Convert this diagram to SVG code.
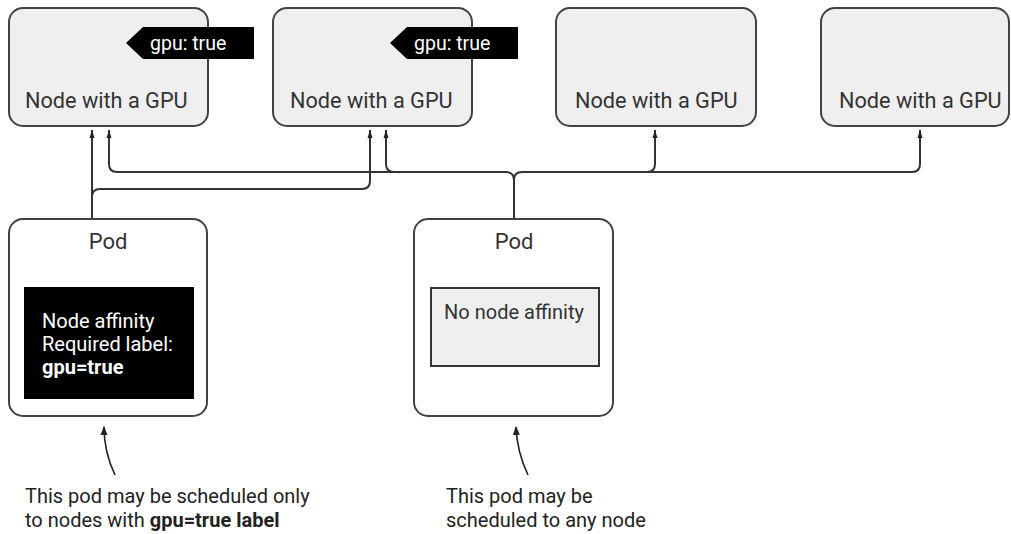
<svg xmlns="http://www.w3.org/2000/svg" width="1011" height="534" viewBox="0 0 1011 534">
  <style>
    .node { fill: #efefef; stroke: #424242; stroke-width: 2; }
    .pod { fill: #ffffff; stroke: #424242; stroke-width: 2; }
    .lbl { font-family: Roboto, "Liberation Sans", sans-serif; fill: #333333; }
    .node-lbl { font-size: 21.7px; }
    .pod-lbl { font-size: 22px; }
    .inner { font-size: 20px; }
    .inv { fill: #ffffff; }
    .tag { fill: #000000; }
    .tag-lbl { font-family: Roboto, "Liberation Sans", sans-serif; font-size: 19.5px; fill: #ffffff; }
    .wire { fill: none; stroke: #333333; stroke-width: 2; }
    .note { fill: none; stroke: #222222; stroke-width: 1.6; }
    .cap { font-family: Roboto, "Liberation Sans", sans-serif; font-size: 20px; fill: #222222; }
  </style>
  <defs>
    <!-- arrowhead for the annotation curves, drawn along +x -->
    <marker id="tip" viewBox="0 0 9 8" refX="8" refY="4" markerWidth="9" markerHeight="8" markerUnits="userSpaceOnUse" orient="auto">
      <path d="M0 0.5 L9 4 L0 7.5 Z" fill="#222222"/>
    </marker>
    <!-- arrowhead for the vertical wires into the nodes -->
    <marker id="up" viewBox="0 0 6 8" refX="3" refY="0" markerWidth="6" markerHeight="8" markerUnits="userSpaceOnUse" orient="0">
      <path d="M0.5 8 L3 0 L5.5 8 Z" fill="#222222"/>
    </marker>
  </defs>

  <rect width="1011" height="534" fill="#ffffff"/>

  <!-- scheduling connectors -->
  <g id="connectors">
    <!-- pod with affinity: only GPU-labelled nodes -->
    <path class="wire" d="M92 219 V130" marker-end="url(#up)"/>
    <path class="wire" d="M92 197 Q92 189 100 189 H362 Q370 189 370 181 V130" marker-end="url(#up)"/>
    <!-- pod without affinity: any node -->
    <path class="wire" d="M514 219 V180 Q514 172 506 172 H117 Q109 172 109 164 V130" marker-end="url(#up)"/>
    <path class="wire" d="M394 172 Q386 172 386 164 V130" marker-end="url(#up)"/>
    <path class="wire" d="M514 180 Q514 172 522 172 H912 Q920 172 920 164 V130" marker-end="url(#up)"/>
    <path class="wire" d="M647 172 Q655 172 655 164 V130" marker-end="url(#up)"/>
  </g>

  <g id="node1">
    <rect class="node" x="9" y="8" width="199" height="118" rx="14"/>
    <polygon class="tag" points="126,43 143,27 254,27 254,59 143,59"/>
    <text class="tag-lbl" x="150" y="50">gpu: true</text>
    <text class="lbl node-lbl" x="25" y="108">Node with a GPU</text>
  </g>

  <g id="node2">
    <rect class="node" x="273" y="8" width="199" height="118" rx="14"/>
    <polygon class="tag" points="390,43 407,27 518,27 518,59 407,59"/>
    <text class="tag-lbl" x="414" y="50">gpu: true</text>
    <text class="lbl node-lbl" x="290" y="108">Node with a GPU</text>
  </g>

  <g id="node3">
    <rect class="node" x="556" y="8" width="200" height="118" rx="14"/>
    <text class="lbl node-lbl" x="575" y="108">Node with a GPU</text>
  </g>

  <g id="node4">
    <rect class="node" x="821" y="8" width="188" height="118" rx="14"/>
    <text class="lbl node-lbl" x="839" y="108">Node with a GPU</text>
  </g>

  <g id="pod1">
    <rect class="pod" x="9" y="219" width="198" height="197" rx="14"/>
    <text class="lbl pod-lbl" x="108" y="249" text-anchor="middle">Pod</text>
    <rect x="24" y="287" width="170" height="112" fill="#000000"/>
    <text class="lbl inner inv" x="42" y="328">Node affinity</text>
    <text class="lbl inner inv" x="42" y="351">Required label:</text>
    <text class="lbl inner inv" x="42" y="374" font-weight="bold">gpu=true</text>
  </g>

  <g id="pod2">
    <rect class="pod" x="414" y="219" width="199" height="197" rx="14"/>
    <text class="lbl pod-lbl" x="514" y="249" text-anchor="middle">Pod</text>
    <rect x="431" y="288" width="168" height="78" fill="#efefef" stroke="#333333" stroke-width="2"/>
    <text class="lbl inner" x="514" y="319" text-anchor="middle">No node affinity</text>
  </g>

  <!-- annotation arrows -->
  <g id="note1">
    <path class="note" d="M115 475 Q104 452 104 427" marker-end="url(#tip)"/>
    <text class="cap" x="25" y="503">This pod may be scheduled only</text>
    <text class="cap" x="25" y="527">to nodes with <tspan font-weight="bold">gpu=true label</tspan></text>
  </g>

  <g id="note2">
    <path class="note" d="M528 475 Q517 452 516 427" marker-end="url(#tip)"/>
    <text class="cap" x="446" y="503">This pod may be</text>
    <text class="cap" x="446" y="527">scheduled to any node</text>
  </g>
</svg>
